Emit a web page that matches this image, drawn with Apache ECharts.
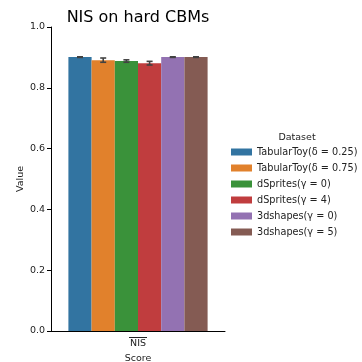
<!DOCTYPE html>
<html><head><meta charset="utf-8">
<script src="https://cdn.jsdelivr.net/npm/echarts@6/dist/echarts.min.js"></script>
<style>html,body{margin:0;padding:0;background:#fff}#c{width:362px;height:362px}</style>
</head><body><div id="c"></div>
<script>
var categories = ['NIS'];
var datasets = ['TabularToy(\u03B4 = 0.25)','TabularToy(\u03B4 = 0.75)','dSprites(\u03B3 = 0)','dSprites(\u03B3 = 4)','3dshapes(\u03B3 = 0)','3dshapes(\u03B3 = 5)'];
var means = [0.901, 0.891, 0.888, 0.881, 0.901, 0.901];
var errs = [0.001, 0.007, 0.004, 0.006, 0.001, 0.001];
var colors = ['#3274a1','#e1812c','#3a923a','#c03d3e','#9372b2','#845b53'];
var yTicks = [0, 0.2, 0.4, 0.6, 0.8, 1.0];

var chart = echarts.init(document.getElementById('c'));
var F = 'DejaVu Sans';
var series = [];
datasets.forEach(function(name, i){
  series.push({type:'bar', name:name, data:[means[i]], itemStyle:{color:colors[i]},
    barGap:'0%', barCategoryGap:'20%', emphasis:{disabled:true}});
});
datasets.forEach(function(name, i){
  series.push({type:'custom', name:'err'+i, z:10, silent:true,
    data:[[0, means[i]-errs[i], means[i]+errs[i]]],
    renderItem:function(params, api){
      var band = api.size([1,0])[0];
      var bw = band*0.8/datasets.length;
      var c = api.coord([api.value(0), 0]);
      var x = c[0] + (i - (datasets.length-1)/2)*bw;
      var lo = api.coord([api.value(0), api.value(1)])[1];
      var hi = api.coord([api.value(0), api.value(2)])[1];
      var cap = 3;
      var st = {stroke:'#424242', lineWidth:1.6};
      return {type:'group', children:[
        {type:'line', shape:{x1:x,y1:lo,x2:x,y2:hi}, style:st},
        {type:'line', shape:{x1:x-cap,y1:lo,x2:x+cap,y2:lo}, style:st},
        {type:'line', shape:{x1:x-cap,y1:hi,x2:x+cap,y2:hi}, style:st}
      ]};
    }});
});
chart.setOption({
  animation:false,
  textStyle:{fontFamily:F},
  title:[
    {text:'NIS on hard CBMs', left:133, top:5, textAlign:'center',
     textStyle:{fontFamily:F, fontSize:16, fontWeight:'normal', color:'#000'}},
    {text:'Dataset', left:292, top:128, textAlign:'center',
     textStyle:{fontFamily:F, fontSize:9.5, fontWeight:'normal', color:'#222'}}
  ],
  legend:{data:datasets, orient:'vertical', left:226, top:141, itemWidth:21, itemHeight:7,
    itemGap:4, icon:'rect', selectedMode:false,
    textStyle:{fontFamily:F, fontSize:9.7, color:'#222', lineHeight:12}},
  grid:{left:51, right:137, top:27, bottom:31, containLabel:false, outerBoundsMode:'none'},
  xAxis:{type:'category', data:categories,
    axisLine:{lineStyle:{color:'#000', width:1}},
    axisTick:{alignWithLabel:true, length:4, lineStyle:{color:'#000'}},
    axisLabel:{fontFamily:F, fontSize:9.5, color:'#222', margin:5,
      formatter:function(v){return '{o| }\n{n|' + v + '}';},
      rich:{o:{width:18, height:1, lineHeight:3, backgroundColor:'#222', fontSize:1},
            n:{fontFamily:F, fontSize:9.5, lineHeight:10, color:'#222'}}},
    name:'Score', nameLocation:'middle', nameGap:19,
    nameTextStyle:{fontFamily:F, fontSize:9.5, color:'#222'}},
  yAxis:{type:'value', min:0, max:1, interval:0.2,
    axisLine:{show:true, lineStyle:{color:'#000', width:1}},
    axisTick:{show:true, length:4, lineStyle:{color:'#000'}},
    splitLine:{show:false},
    axisLabel:{fontFamily:F, fontSize:9.5, color:'#222', margin:6,
      formatter:function(v){return v.toFixed(1);}},
    name:'Value', nameLocation:'middle', nameGap:25,
    nameTextStyle:{fontFamily:F, fontSize:9.5, color:'#222'}},
  series:series
});
</script></body></html>
